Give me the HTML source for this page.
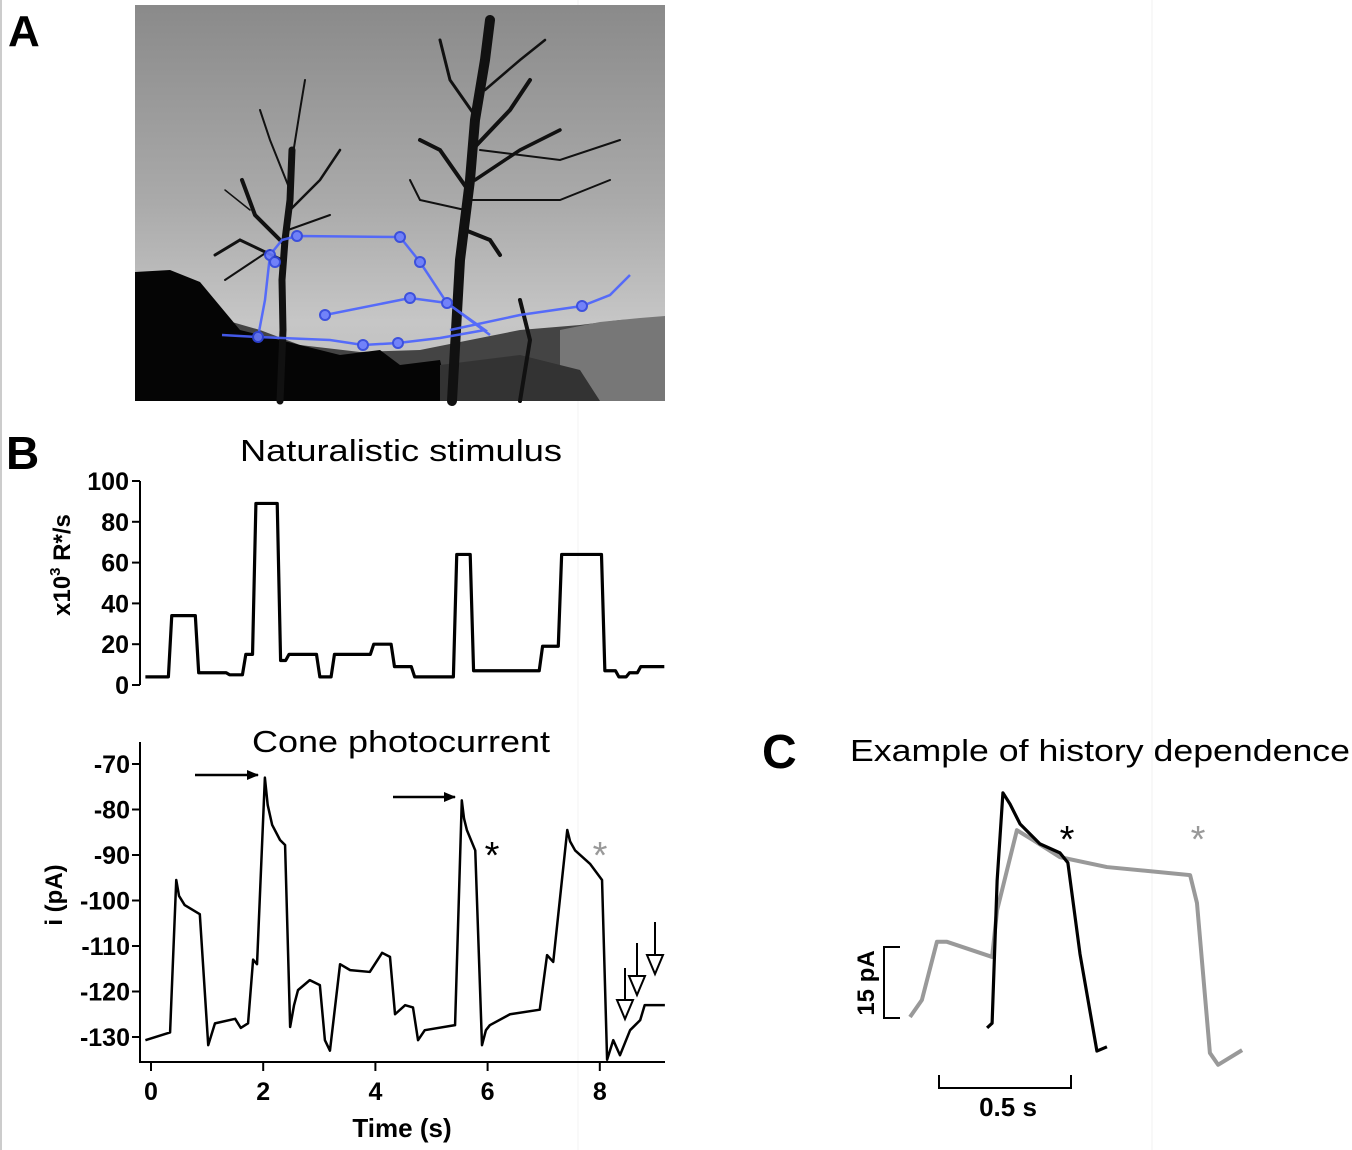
<!DOCTYPE html>
<html><head><meta charset="utf-8"><style>
html,body{margin:0;padding:0;background:#fff;}
svg{display:block;font-family:"Liberation Sans",sans-serif;}
</style></head><body>
<svg id="fig" width="1352" height="1150" viewBox="0 0 1352 1150">
<defs>
<linearGradient id="sky" x1="0" y1="0" x2="0" y2="1">
<stop offset="0" stop-color="#8a8a8a"/><stop offset="0.5" stop-color="#aaaaaa"/><stop offset="0.8" stop-color="#c6c6c6"/><stop offset="1" stop-color="#bdbdbd"/>
</linearGradient>
<marker id="ah" markerWidth="12" markerHeight="10" refX="11" refY="5" orient="auto" markerUnits="userSpaceOnUse"><path d="M0,0 L12,5 L0,10 z" fill="#000"/></marker>
</defs>
<rect x="0" y="0" width="2" height="1150" fill="#ccc"/>
<line x1="1152" y1="0" x2="1152" y2="1150" stroke="#f0f0f0"/>
<line x1="578" y1="0" x2="578" y2="1150" stroke="#f3f3f3"/>

<!-- Panel A -->
<text x="8" y="46" font-size="44" font-weight="bold">A</text>
<g>
<rect x="135" y="5" width="530" height="396" fill="url(#sky)"/>
<path d="M135,280 L160,278 L190,285 L210,300 L225,320 L260,330 L300,345 L360,352 L420,350 L470,340 L520,330 L580,325 L620,320 L665,318 L665,401 L135,401 Z" fill="#444"/>
<path d="M560,330 L600,322 L640,318 L665,316 L665,401 L560,401 Z" fill="#777"/>
<path d="M135,272 L170,270 L200,282 L215,300 L240,330 L300,345 L340,355 L380,350 L400,365 L440,360 L450,401 L135,401 Z" fill="#050505"/>
<path d="M440,365 L520,355 L580,370 L600,401 L440,401 Z" fill="#333"/>
<g stroke="#111" fill="none" stroke-linecap="round">
<path d="M280,401 L283,330 L282,280 L285,240 L290,200 L292,150" stroke-width="7"/>
<path d="M285,245 L255,215 L242,180" stroke-width="4"/>
<path d="M282,260 L240,240 L215,255" stroke-width="3"/>
<path d="M290,210 L320,180 L340,150" stroke-width="2.5"/>
<path d="M288,230 L330,215" stroke-width="2"/>
<path d="M290,190 L270,140 L260,110" stroke-width="2"/>
<path d="M292,160 L300,110 L305,80" stroke-width="2"/>
<path d="M250,210 L225,190" stroke-width="1.5"/>
<path d="M270,250 L225,280" stroke-width="2"/>
<path d="M452,401 L456,330 L460,260 L470,180 L475,120 L485,60 L490,20" stroke-width="10"/>
<path d="M468,190 L440,150 L420,140" stroke-width="4"/>
<path d="M472,150 L510,110 L530,80" stroke-width="4"/>
<path d="M475,180 L520,150 L560,130" stroke-width="3.5"/>
<path d="M465,230 L490,240 L500,255" stroke-width="4"/>
<path d="M478,120 L450,80 L440,40" stroke-width="3"/>
<path d="M485,90 L520,60 L545,40" stroke-width="2.5"/>
<path d="M470,200 L560,200 L610,180" stroke-width="2"/>
<path d="M480,150 L560,160 L620,140" stroke-width="2"/>
<path d="M465,210 L420,200 L410,180" stroke-width="2"/>
<path d="M520,300 L530,340 L520,401" stroke-width="4"/>
</g>
</g>
<g stroke="#4a62ff" fill="none" stroke-width="2.5" opacity="0.9">
<polyline points="222,335 258,337 265,300 270,255 282,240 297,236 400,237 420,262 447,303 485,330 440,338 398,343 363,345 330,340 258,337"/>
<polyline points="325,315 410,298 447,303 490,335"/>
<polyline points="450,330 520,315 582,306 610,295 630,275"/>
<g fill="#6a7cff" stroke="#2f45e0" stroke-width="2">
<circle cx="258" cy="337" r="5"/><circle cx="270" cy="255" r="5"/><circle cx="275" cy="262" r="5"/><circle cx="297" cy="236" r="5"/><circle cx="400" cy="237" r="5"/><circle cx="420" cy="262" r="5"/><circle cx="410" cy="298" r="5"/><circle cx="447" cy="303" r="5"/><circle cx="325" cy="315" r="5"/><circle cx="363" cy="345" r="5"/><circle cx="398" cy="343" r="5"/><circle cx="582" cy="306" r="5"/>
</g>
</g>

<!-- Panel B -->
<text x="6" y="469" font-size="46" font-weight="bold">B</text>
<text x="401" y="461" font-size="31" text-anchor="middle" textLength="322" lengthAdjust="spacingAndGlyphs">Naturalistic stimulus</text>
<text transform="translate(70,565) rotate(-90)" font-size="24" font-weight="bold" text-anchor="middle">x10<tspan dy="-10" font-size="15">3</tspan><tspan dy="10"> R*/s</tspan></text>
<g id="stim"></g>

<text x="401" y="752" font-size="31" text-anchor="middle" textLength="298" lengthAdjust="spacingAndGlyphs">Cone photocurrent</text>
<text transform="translate(62,895) rotate(-90)" font-size="24" font-weight="bold" text-anchor="middle">i (pA)</text>
<text x="402" y="1137" font-size="26" font-weight="bold" text-anchor="middle">Time (s)</text>
<g id="cur"></g>
<g>
<line x1="195" y1="775" x2="258" y2="775" stroke="#000" stroke-width="2.5" marker-end="url(#ah)"/>
<line x1="393" y1="797" x2="455" y2="797" stroke="#000" stroke-width="2.5" marker-end="url(#ah)"/>
<text x="492" y="868" font-size="38" text-anchor="middle">*</text>
<text x="600" y="868" font-size="38" text-anchor="middle" fill="#999">*</text>
<g stroke="#000" stroke-width="2" fill="#fff">
<line x1="625" y1="968" x2="625" y2="1000"/><path d="M617,1000 L633,1000 L625,1019 Z"/>
<line x1="637" y1="943" x2="637" y2="976"/><path d="M629,976 L645,976 L637,995 Z"/>
<line x1="655" y1="922" x2="655" y2="955"/><path d="M647,955 L663,955 L655,974 Z"/>
</g>
</g>

<!-- Panel C -->
<text x="762" y="768" font-size="48" font-weight="bold">C</text>
<text x="850" y="761" font-size="31" textLength="500" lengthAdjust="spacingAndGlyphs">Example of history dependence</text>
<g id="pc"></g>
<text x="1067" y="852" font-size="38" text-anchor="middle">*</text>
<text x="1198" y="852" font-size="38" text-anchor="middle" fill="#999">*</text>
<g stroke="#000" stroke-width="2" fill="none">
<path d="M900,947 L884,947 L884,1018 L900,1018"/>
<path d="M939,1075 L939,1088 L1071,1088 L1071,1075"/>
</g>
<text transform="translate(874,983) rotate(-90)" font-size="24" font-weight="bold" text-anchor="middle">15 pA</text>
<text x="1008" y="1116" font-size="26" font-weight="bold" text-anchor="middle">0.5 s</text>
</svg>
<script>
// Stimulus data (step times in s, level x10^3 R*/s after each step)
var stimTimes = [-0.1,0.34,0.82,1.37,1.66,1.84,2.28,2.43,2.98,3.24,3.94,4.31,4.67,5.42,5.72,6.95,7.29,8.06,8.31,8.5,8.7,9.15];
var stimLevels = [4,34,6,5,15,89,12,15,4,15,20,9,4,64,7,19,64,7,4,6,9];
var stimTicks = [0,20,40,60,80,100];
// Photocurrent trace
var curTimes = [-0.1,0.34,0.45,0.5,0.6,0.87,1.02,1.14,1.5,1.6,1.73,1.82,1.89,2.03,2.08,2.16,2.3,2.39,2.48,2.55,2.62,2.83,3.01,3.1,3.19,3.37,3.55,3.9,4.12,4.26,4.35,4.53,4.67,4.76,4.88,5.42,5.54,5.58,5.63,5.78,5.9,5.97,6.04,6.4,6.93,7.06,7.17,7.42,7.47,7.56,7.83,8.04,8.13,8.24,8.36,8.54,8.72,8.8,9.16];
var curValues = [-130.7,-129,-95.5,-99,-101,-103,-131.8,-127,-126,-128,-127,-113,-114,-73,-79,-83.4,-86.7,-87.8,-127.8,-123,-119.7,-117.5,-118.6,-130.7,-133,-114,-115.3,-115.7,-111.5,-112.4,-125,-123,-123.5,-130.7,-128.5,-127.4,-78,-82,-84.5,-89,-131.8,-128.5,-127.4,-125,-124,-112,-113.5,-84.5,-87,-89,-92,-95.5,-135,-130.7,-134,-128.5,-126.3,-123,-123];
var curTicks = [-70,-80,-90,-100,-110,-120,-130];
var timeTicks = [0,2,4,6,8];
// Panel C traces (s, pA relative)
var grayTimes = [0,0.045,0.102,0.14,0.311,0.33,0.405,0.466,0.568,0.746,1.061,1.087,1.136,1.167,1.258];
var grayValues = [0,3.6,15.9,15.9,12.7,22.6,39.5,37.4,33.8,31.7,30,24.1,-7.6,-10.1,-7];
var blackTimes = [0.292,0.311,0.33,0.352,0.379,0.417,0.492,0.568,0.598,0.644,0.708,0.746];
var blackValues = [-2.3,-1.3,28.8,47.4,45,40.8,36.6,34.7,32.6,13.3,-7.2,-6.3];

var NS='http://www.w3.org/2000/svg';
function mk(tag,attrs,parent){var e=document.createElementNS(NS,tag);for(var k in attrs)e.setAttribute(k,attrs[k]);parent.appendChild(e);return e;}
function xT(t){return 151+56.1*t;}
function yS(v){return 685-2.04*v;}
function yC(v){return 764-(v+70)*4.55;}
function xP(t){return 910+264*t;}
function yP(v){return 1017-4.73*v;}

var stim=document.getElementById('stim');
var ax=mk('path',{d:'M140,481 L140,685',stroke:'#000','stroke-width':2,fill:'none'},stim);


stimTicks.forEach(function(v){
  var tk=mk('line',{x1:132,x2:140,y1:yS(v),y2:yS(v),stroke:'#000','stroke-width':2},stim);
  
  
  var tl=mk('text',{x:129,y:yS(v)+9,'font-size':25,'font-weight':'bold','text-anchor':'end'},stim);
  tl.textContent=v;
  
  
});
var sp=[];var r=0.06;
for(var i=0;i<stimLevels.length;i++){
  var t0=stimTimes[i],t1=stimTimes[i+1];
  sp.push(xT(i===0?t0:t0+r/2)+','+yS(stimLevels[i]));
  sp.push(xT(i===stimLevels.length-1?t1:t1-r/2)+','+yS(stimLevels[i]));
}
var sl=mk('polyline',{points:sp.join(' '),fill:'none',stroke:'#000','stroke-width':3.2,'stroke-linejoin':'round'},stim);



var cur=document.getElementById('cur');
var cax=mk('path',{d:'M140,742 L140,1062 L665,1062',stroke:'#000','stroke-width':2,fill:'none'},cur);


curTicks.forEach(function(v){
  var tk=mk('line',{x1:132,x2:140,y1:yC(v),y2:yC(v),stroke:'#000','stroke-width':2},cur);
  
  
  var tl=mk('text',{x:130,y:yC(v)+9,'font-size':25,'font-weight':'bold','text-anchor':'end'},cur);
  tl.textContent=v;
  
  
});
timeTicks.forEach(function(t){
  var tk=mk('line',{x1:xT(t),x2:xT(t),y1:1062,y2:1071,stroke:'#000','stroke-width':2},cur);
  
  
  var tl=mk('text',{x:xT(t),y:1100,'font-size':25,'font-weight':'bold','text-anchor':'middle'},cur);
  tl.textContent=t;
  
  
});
var cp=curTimes.map(function(t,i){return xT(t)+','+yC(curValues[i]);}).join(' ');
var cl=mk('polyline',{points:cp,fill:'none',stroke:'#000','stroke-width':2.5,'stroke-linejoin':'round'},cur);



var pc=document.getElementById('pc');
var gp=grayTimes.map(function(t,i){return xP(t)+','+yP(grayValues[i]);}).join(' ');
var gl=mk('polyline',{points:gp,fill:'none',stroke:'#999','stroke-width':4,'stroke-linejoin':'round'},pc);


var bp=blackTimes.map(function(t,i){return xP(t)+','+yP(blackValues[i]);}).join(' ');
var bl=mk('polyline',{points:bp,fill:'none',stroke:'#000','stroke-width':3.2,'stroke-linejoin':'round'},pc);


</script>
</body></html>
